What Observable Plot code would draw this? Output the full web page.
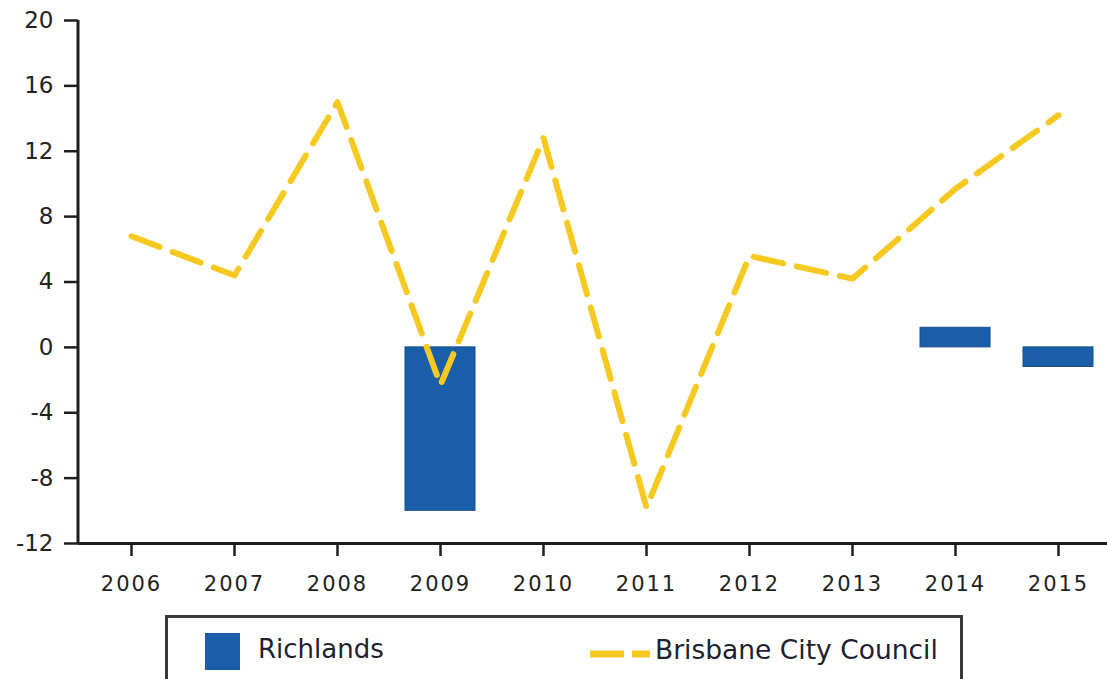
<!DOCTYPE html>
<html>
<head>
<meta charset="utf-8">
<script src="https://cdn.jsdelivr.net/npm/d3@7"></script>
<script src="https://cdn.jsdelivr.net/npm/@observablehq/plot@0.6"></script>
<style>
  html, body { margin: 0; padding: 0; background: #fff; }
  body { width: 1107px; height: 679px; overflow: hidden; position: relative; font-family: "DejaVu Sans", sans-serif; }
  #chart { position: absolute; left: 0; top: 0; }
  #chart svg g[aria-label='y-axis tick label'] text { font-family: "DejaVu Sans", sans-serif !important; font-size: 23px !important; }
  #chart svg g[aria-label='x-axis tick label'] text { font-family: "DejaVu Sans", sans-serif !important; font-size: 21px !important; letter-spacing: 2px; }
  #legend { position: absolute; left: 165px; top: 615px; width: 792px; height: 80px; border: 3px solid #3a3a3a; box-sizing: content-box; background: #fff; }
  #legend .sw { position: absolute; left: 37px; top: 15px; width: 35px; height: 37px; background: #1a5ea9; }
  #legend .t1 { position: absolute; left: 90px; top: 16px; font-size: 26px; color: #1c2230; }
  #legend .dash { position: absolute; left: 422px; top: 31px; }
  #legend .t2 { position: absolute; left: 487px; top: 16px; font-size: 26.5px; color: #1c2230; }
</style>
</head>
<body>
<div id="chart"></div>
<div id="legend">
  <div class="sw"></div><div class="t1">Richlands</div>
  <svg class="dash" width="60" height="10"><line x1="0" y1="5" x2="60" y2="5" stroke="#f5c920" stroke-width="7" stroke-dasharray="34,8"/></svg>
  <div class="t2">Brisbane City Council</div>
</div>
<script>
const years = [2006, 2007, 2008, 2009, 2010, 2011, 2012, 2013, 2014, 2015];
const brisbane = [6.8, 4.4, 15.0, -2.3, 12.8, -9.8, 5.6, 4.2, 9.7, 14.2];
const richlandsYears = [2009, 2014, 2015];
const richlandsValues = [-10.0, 1.2, -1.2];
const yTicks = [-12, -8, -4, 0, 4, 8, 12, 16, 20];

const lineData = years.map((y, i) => ({year: y, value: brisbane[i]}));
const barData = richlandsYears.map((y, i) => ({year: y, value: richlandsValues[i]}));

const chart = Plot.plot({
  width: 1107,
  height: 605,
  marginLeft: 78,
  marginRight: 0,
  marginTop: 20,
  marginBottom: 62,
  style: { fontFamily: "'DejaVu Sans', sans-serif", color: "#222", background: "transparent" },
  x: { type: "band", domain: years, range: [78, 1112], paddingInner: 0.32, paddingOuter: 0.16 },
  y: { domain: [-12, 20] },
  marks: [
    Plot.barY(barData, { x: "year", y: "value", fill: "#1a5ea9", stroke: "#174f8e", strokeWidth: 1 }),
    Plot.lineY(lineData, { x: "year", y: "value", stroke: "#f5c920", strokeWidth: 6, strokeDasharray: "30,14", strokeLinejoin: "round" }),
    Plot.ruleY([-12], { stroke: "#1e1e1e", strokeWidth: 3 }),
    Plot.axisX({ tickSize: 13, tickPadding: 20, fontSize: 21, label: null, tickFormat: d => String(d), stroke: "#1e1e1e", strokeWidth: 2.5, fill: "#222" }),
    Plot.axisY({ ticks: yTicks, tickSize: 14, tickPadding: 11, fontSize: 23, label: null, tickFormat: d => d < 0 ? "-" + Math.abs(d) : String(d), stroke: "#1e1e1e", strokeWidth: 2.5, fill: "#222" })
  ]
});

// y axis domain line drawn from the plot's own scales
const ys = chart.scale("y");
const yTop = d3.min(ys.range), yBot = d3.max(ys.range);
d3.select(chart).append("line")
  .attr("x1", 78).attr("x2", 78)
  .attr("y1", yTop).attr("y2", yBot)
  .attr("stroke", "#1e1e1e").attr("stroke-width", 3);
document.getElementById("chart").appendChild(chart);
</script>
</body>
</html>
